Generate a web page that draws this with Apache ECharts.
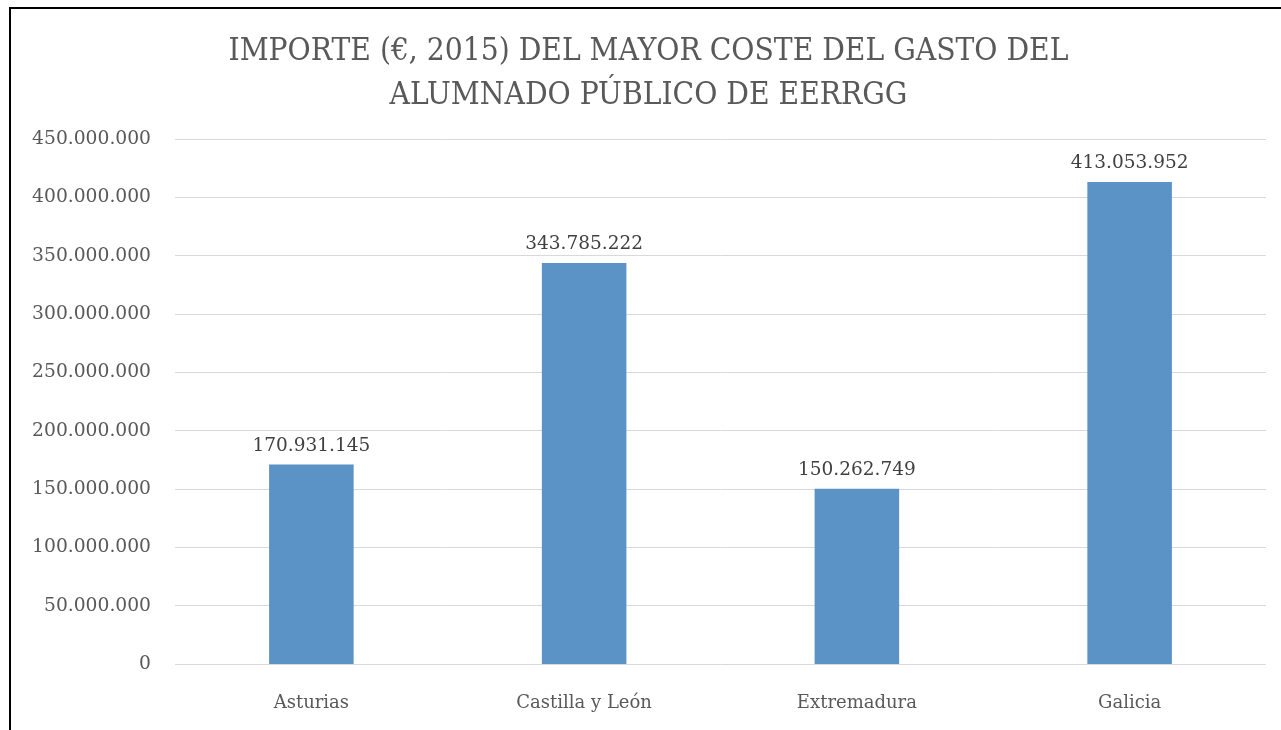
<!DOCTYPE html>
<html>
<head>
<meta charset="utf-8">
<script src="https://cdn.jsdelivr.net/npm/echarts@6/dist/echarts.min.js"></script>
<style>
  html, body { margin: 0; padding: 0; background: #fff; overflow: hidden; width: 1281px; height: 730px; }
  #frame {
    position: absolute; left: 9px; top: 7px; width: 1280px; height: 730px;
    border-left: 2px solid #000; border-top: 2px solid #000; box-sizing: border-box;
  }
  #chart { position: absolute; left: 8px; top: 0; width: 1281px; height: 730px; }
</style>
</head>
<body>
<div id="frame"></div>
<div id="chart"></div>
<script>
const categories = ['Asturias', 'Castilla y León', 'Extremadura', 'Galicia']
const values = [170931145, 343785222, 150262749, 413053952]
const titleLines = ['IMPORTE (€, 2015) DEL MAYOR COSTE DEL GASTO DEL', 'ALUMNADO PÚBLICO DE EERRGG']

const serif = '"DejaVu Serif", "Liberation Serif", serif'
const serifNarrow = '"DejaVu Serif Condensed", "DejaVu Serif", serif'

function fmt(v) {
  return String(Math.round(v)).replace(/\B(?=(\d{3})+(?!\d))/g, '.')
}

const chart = echarts.init(document.getElementById('chart'))
chart.setOption({
  animation: false,
  title: {
    text: titleLines.join('\n'),
    left: 'center',
    top: 25,
    textStyle: {
      fontFamily: serifNarrow,
      fontWeight: 'normal',
      fontSize: 31.4,
      lineHeight: 44,
      color: '#595959'
    }
  },
  // chart div is shifted 8px right, so the grid is pulled back by the same amount
  grid: { left: 167, right: 23, top: 139, bottom: 66, containLabel: false },
  xAxis: {
    type: 'category',
    data: categories,
    axisLine: { show: false },
    axisTick: { show: false },
    axisLabel: { fontFamily: serif, fontSize: 18, color: '#595959', margin: 30 }
  },
  yAxis: {
    type: 'value',
    min: 0,
    max: 450000000,
    interval: 50000000,
    axisLine: { show: false },
    axisTick: { show: false },
    axisLabel: { fontFamily: serif, fontSize: 18.7, color: '#595959', margin: 24, formatter: fmt },
    splitLine: { lineStyle: { color: '#d9d9d9', width: 1 } }
  },
  series: [{
    type: 'bar',
    data: values,
    barWidth: '31%',
    itemStyle: { color: '#5b93c7' },
    label: {
      show: true,
      position: 'top',
      distance: 9,
      fontFamily: serif,
      fontSize: 18.5,
      color: '#404040',
      formatter: p => fmt(p.value)
    }
  }]
})
</script>
</body>
</html>
